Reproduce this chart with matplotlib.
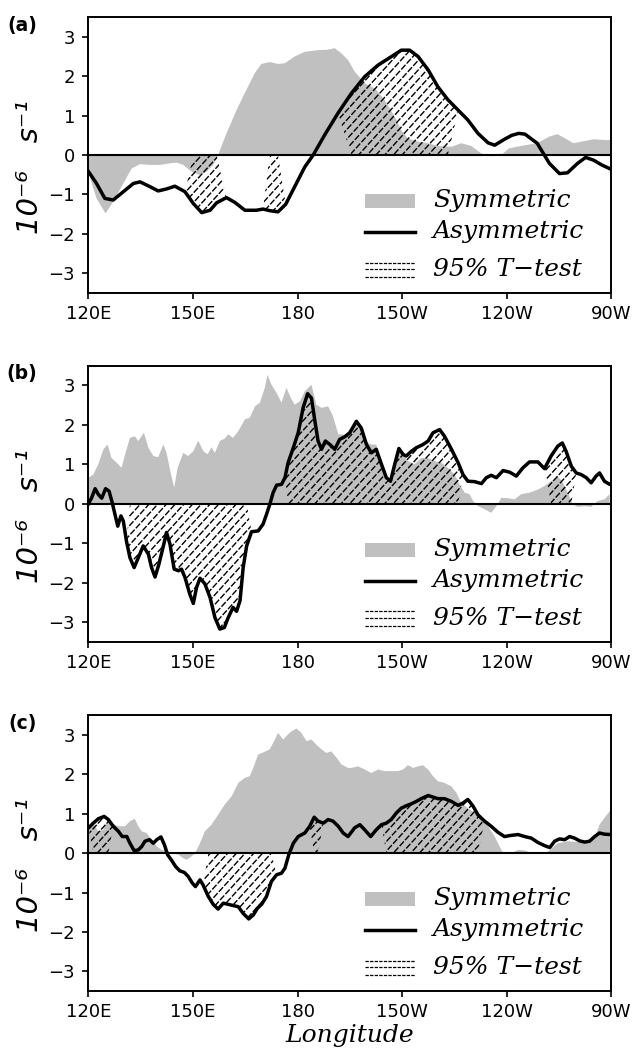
import numpy as np
import matplotlib
matplotlib.use('Agg')
import matplotlib.pyplot as plt
from matplotlib.collections import LineCollection
from matplotlib.path import Path

plt.rcParams['lines.scale_dashes'] = False

# ---------------- data ----------------
# (a)
lon_sym_a = [120, 122.3, 124.9, 127.1, 130, 132.4, 134.8, 137.6, 140.5, 143.4, 145.3, 147.2, 149.6, 152,
             153.9, 155.8, 157.2, 159.6, 162.5, 165.3, 167.7, 169.6, 172, 174.4, 176.4, 179.2, 182.1, 185.9,
             188.5, 190.7, 192.6, 194.5, 196.4, 199.3, 202.2, 205, 207.9, 209.8, 211.7, 214.6, 217.5, 220.3,
             224.2, 227, 229.9, 232.8, 235.6, 238.5, 240.7, 245.3, 248.8, 252.3, 254.6, 256.9, 259.2, 261.5,
             265, 268.5, 270]
sym_a = [-0.45, -1.1, -1.48, -1.18, -0.72, -0.34, -0.23, -0.25, -0.25, -0.21, -0.19, -0.25, -0.42, -0.51,
         -0.42, -0.25, 0.0, 0.55, 1.14, 1.65, 2.07, 2.31, 2.36, 2.31, 2.33, 2.5, 2.62, 2.66,
         2.67, 2.71, 2.58, 2.41, 2.12, 1.82, 1.69, 1.4, 0.97, 0.63, 0.42, 0.34, 0.3, 0.23,
         0.21, 0.3, 0.23, 0.04, -0.03, 0.0, 0.17, 0.25, 0.3, 0.47, 0.53, 0.42, 0.3, 0.34,
         0.4, 0.38, 0.38]
lon_asym_a = [120, 122.3, 124.7, 127.1, 130, 132.9, 134.8, 137.6, 140, 142.4, 144.8, 147.7, 150.1, 152.5,
              154.9, 156.8, 159.6, 162, 164.9, 168.2, 170.1, 172, 174.4, 176.6, 179.2, 182.1, 184.5, 187.8,
              191.6, 195.5, 199.3, 203.1, 207, 209.8, 212.2, 214.6, 217.5, 220.3, 223.2, 226.1, 228.9, 231.8,
              234.7, 236.6, 239.4, 241.5, 243.5, 245.3, 248.8, 252.3, 255.2, 257.5, 260.4, 262.7, 265, 267.3,
              270]
asym_a = [-0.42, -0.72, -1.1, -1.14, -0.93, -0.72, -0.68, -0.8, -0.91, -0.86, -0.79, -0.93, -1.23, -1.46,
          -1.4, -1.21, -1.08, -1.2, -1.4, -1.4, -1.37, -1.41, -1.44, -1.25, -0.8, -0.3, 0.0, 0.51,
          1.06, 1.57, 1.99, 2.28, 2.5, 2.66, 2.66, 2.5, 2.16, 1.73, 1.4, 1.14, 0.89, 0.55,
          0.31, 0.25, 0.4, 0.5, 0.55, 0.53, 0.3, -0.21, -0.47, -0.45, -0.21, -0.06, -0.13, -0.25,
          -0.36]
sig_a = [(149.5, 157.8), (171.5, 175.5), (194.5, 225.2)]

# (b)
lon_sym_b = [120, 121.4, 122.8, 124.3, 125.5, 126.6, 128.1, 129.5, 130.5, 131.9, 133.3, 134.3, 135.9, 137.2,
             138.6, 140, 141.5, 142.4, 143.7, 144.6, 145.6, 147.2, 148.6, 150.1, 151.5, 153, 154.2, 155.3,
             156.3, 157.7, 159.1, 160.1, 161.5, 163, 164.9, 166.3, 167.8, 169.2, 170.6, 171.4, 172.5, 174,
             175.4, 176.8, 178.1, 179.2, 180.7, 182.1, 184, 185.4, 186.9, 188.8, 190.2, 191.7, 193.6, 195.5,
             196.9, 198.3, 199.3, 201.2, 202.6, 204.1, 205.5, 206.9, 208.4, 209.8, 211.7, 213.6, 215.5, 217.5,
             219.4, 221.3, 223.2, 225.1, 226.5, 228, 229.4, 230.4, 231.8, 233.7, 235.6, 237.1, 238.5, 240.4,
             242.3, 244.2, 246.6, 249, 250.9, 252.8, 254.7, 256.2, 257.6, 259, 260.5, 262.4, 264.3, 266.2,
             268.1, 269.6]
sym_b = [0.66, 0.74, 1.0, 1.38, 1.5, 1.16, 1.04, 0.91, 1.25, 1.67, 1.71, 1.59, 1.8, 1.42,
         1.21, 1.18, 1.5, 1.29, 0.74, 0.41, 0.91, 1.29, 1.21, 1.33, 1.6, 1.33, 1.25, 1.43,
         1.29, 1.59, 1.65, 1.76, 1.67, 1.84, 2.14, 2.18, 2.47, 2.56, 2.94, 3.27, 3.02, 2.81,
         2.56, 2.94, 2.68, 2.51, 2.6, 2.85, 3.02, 2.51, 2.43, 2.47, 2.22, 1.76, 1.75, 1.82,
         2.13, 1.97, 1.59, 1.5, 1.5, 1.0, 0.57, 0.57, 1.29, 1.29, 1.08, 1.0, 1.16, 1.16,
         1.08, 1.04, 0.91, 0.74, 0.49, 0.28, 0.24, 0.07, -0.06, -0.14, -0.23, -0.06, 0.15, 0.14,
         0.11, 0.24, 0.28, 0.36, 0.45, 0.57, 0.7, 0.53, 0.28, -0.02, -0.08, -0.06, -0.08, 0.07,
         0.11, 0.24]
lon_asym_b = [120, 120.9, 121.9, 122.8, 123.8, 124.9, 125.9, 126.8, 127.6, 128.4, 129.3, 130, 130.9, 131.9,
              133.1, 134.3, 135.7, 137.2, 138.1, 139.1, 140.2, 141.5, 142.4, 143.4, 144.6, 145.8, 146.7, 147.7,
              149.1, 150.1, 151, 152, 153.4, 154.9, 156.3, 157.7, 159, 160.1, 161.5, 162.5, 163.5, 164.4,
              165.4, 166.8, 168.7, 170.1, 171.1, 172.1, 173, 174, 175.4, 176.4, 177.3, 178.8, 180.2, 181.6,
              182.9, 184, 185, 185.9, 186.9, 188, 189.3, 190.7, 192.1, 193.6, 195, 196.9, 198.3, 199.8,
              201.2, 202.6, 204.1, 205.5, 206.7, 207.9, 209.1, 210.3, 211.2, 212.7, 214.1, 216, 217.5, 218.9,
              220.8, 222.2, 224.2, 226.1, 227.5, 228.9, 230.8, 232.8, 234.2, 235.6, 237.1, 239, 240.9, 242.8,
              244.7, 246.6, 249, 250.9, 252.8, 254.7, 256, 257.1, 258.6, 260, 261.4, 262.9, 264.3, 265.7,
              266.7, 268.1, 269.6, 270]
asym_b = [0.0, 0.15, 0.38, 0.24, 0.14, 0.38, 0.32, 0.03, -0.27, -0.57, -0.31, -0.44, -0.95, -1.37,
          -1.62, -1.37, -1.07, -1.28, -1.62, -1.86, -1.54, -1.07, -0.73, -1.03, -1.66, -1.7, -1.66, -1.87,
          -2.3, -2.53, -2.13, -1.89, -2.03, -2.38, -2.89, -3.18, -3.14, -2.89, -2.63, -2.73, -2.46, -1.62,
          -1.07, -0.71, -0.69, -0.52, -0.27, 0.0, 0.28, 0.47, 0.49, 0.66, 1.04, 1.42, 1.8, 2.43,
          2.79, 2.68, 2.09, 1.59, 1.38, 1.59, 1.5, 1.38, 1.63, 1.7, 1.8, 2.09, 1.92, 1.5,
          1.29, 1.38, 1.0, 0.66, 0.57, 1.0, 1.4, 1.25, 1.21, 1.33, 1.42, 1.5, 1.59, 1.8,
          1.88, 1.71, 1.38, 1.04, 0.74, 0.57, 0.56, 0.51, 0.66, 0.72, 0.66, 0.84, 0.8, 0.7,
          0.91, 1.06, 1.06, 0.89, 1.21, 1.46, 1.54, 1.33, 0.95, 0.78, 0.74, 0.66, 0.53, 0.7,
          0.78, 0.57, 0.49, 0.5]
sig_b = [(131.5, 166), (176.8, 226.2), (252.8, 258.6)]

# (c)
lon_sym_c = [120, 120.9, 121.9, 122.8, 124.3, 125, 126.6, 128.6, 130.5, 131.9, 133.3, 134.3, 135.3, 136.7,
             138.1, 139.6, 141, 142.4, 143.9, 145.8, 147.2, 148.2, 149.6, 150.6, 152, 153.4, 155.3, 157.2,
             159.1, 161.1, 163, 164.9, 166.3, 167.3, 168.7, 170.6, 172, 173.3, 174.4, 175.9, 176.8, 178.3,
             179.7, 181.1, 182.6, 184, 185.4, 186.9, 188.3, 189.7, 191.2, 192.6, 194.5, 195.5, 197.4, 199.3,
             201.2, 203.1, 205, 206.9, 208.9, 210.3, 211.7, 213.2, 214.6, 216, 217.5, 218.9, 220.3, 222.2,
             224.2, 225.6, 227, 228.9, 230.8, 232.8, 234.7, 236.6, 238, 239, 241.4, 243.3, 245.2, 247.1,
             250, 251.9, 254.7, 257.6, 260.5, 263.3, 265.3, 266.7, 268.1, 269.6, 270]
sym_c = [0.64, 0.8, 0.68, 0.55, 0.59, 0.75, 0.76, 0.68, 0.68, 0.81, 0.87, 0.68, 0.55, 0.51,
         0.34, 0.17, 0.08, 0.06, 0.0, -0.04, -0.13, -0.17, -0.08, 0.0, 0.25, 0.55, 0.72, 0.97,
         1.23, 1.44, 1.78, 1.91, 1.95, 2.16, 2.5, 2.57, 2.63, 2.84, 3.05, 2.88, 2.97, 3.09,
         3.16, 3.05, 2.84, 2.88, 2.75, 2.63, 2.54, 2.58, 2.42, 2.25, 2.16, 2.16, 2.2, 2.12,
         2.03, 2.12, 2.08, 2.08, 2.08, 2.12, 2.23, 2.16, 2.2, 2.23, 2.12, 1.95, 1.82, 1.78,
         1.69, 1.53, 1.27, 1.14, 1.02, 0.85, 0.68, 0.42, 0.17, 0.0, 0.0, 0.08, 0.07, 0.0,
         0.0, 0.04, 0.25, 0.3, 0.28, 0.3, 0.38, 0.72, 0.89, 1.06, 1.1]
lon_asym_c = [120, 121.4, 122.8, 124.5, 125.7, 127.1, 128.6, 129.7, 131, 131.9, 133.1, 134.3, 135.3, 136.2,
              137.5, 138.6, 139.6, 140.8, 141.8, 142.7, 143.9, 145, 146.2, 147.5, 148.6, 149.8, 150.7, 152,
              152.9, 154.4, 155.8, 157.2, 158.7, 160.1, 161.5, 163, 164.4, 166, 167.3, 168.5, 169.7, 171.1,
              172.5, 174, 175.4, 176.4, 177.5, 178.8, 180.2, 182.1, 183.5, 184.8, 185.9, 187.4, 188.8, 190.2,
              191.7, 193.1, 194.5, 196.4, 197.9, 199.3, 201, 202.6, 204.1, 205.5, 206.9, 208.4, 209.8, 211.2,
              212.7, 214.1, 215.5, 217.5, 218.9, 220.3, 222.2, 224.2, 226.1, 227.5, 228.9, 230.4, 231.8, 233.7,
              235.6, 237.5, 239.4, 241.4, 243.3, 245.2, 247.1, 249, 250.9, 252.4, 253.8, 255.2, 256.7, 258.1,
              259.5, 261, 262.4, 263.8, 265.3, 266.7, 268.1, 270]
asym_c = [0.64, 0.76, 0.87, 0.93, 0.85, 0.68, 0.55, 0.42, 0.42, 0.25, 0.06, 0.08, 0.17, 0.3,
          0.34, 0.25, 0.34, 0.41, 0.21, -0.04, -0.19, -0.34, -0.45, -0.49, -0.59, -0.76, -0.85, -0.68,
          -0.81, -1.1, -1.3, -1.42, -1.27, -1.3, -1.33, -1.36, -1.53, -1.67, -1.57, -1.4, -1.3, -1.1,
          -0.72, -0.55, -0.51, -0.38, -0.04, 0.25, 0.42, 0.51, 0.68, 0.91, 0.81, 0.76, 0.85, 0.81,
          0.68, 0.51, 0.42, 0.64, 0.72, 0.59, 0.42, 0.59, 0.72, 0.76, 0.85, 1.02, 1.14, 1.2,
          1.25, 1.31, 1.38, 1.46, 1.42, 1.38, 1.38, 1.31, 1.21, 1.27, 1.36, 1.19, 0.97, 0.81,
          0.68, 0.53, 0.42, 0.45, 0.47, 0.42, 0.38, 0.27, 0.19, 0.14, 0.3, 0.36, 0.34, 0.42,
          0.38, 0.31, 0.28, 0.3, 0.42, 0.51, 0.48, 0.47]
sig_c = [(120.5, 127), (153.4, 172.5), (184.3, 186.5), (204.6, 232.8)]

xticks = [120, 150, 180, 210, 240, 270]
xticklabels = ['120E', '150E', '180', '150W', '120W', '90W']
yticks = [-3, -2, -1, 0, 1, 2, 3]
panel_labels = ['(a)', '(b)', '(c)']
legend_labels = ['Symmetric', 'Asymmetric', '95% T\u2212test']
ylabel = '10\u207b\u2076   s\u207b\u00b9'

panels = [
    (lon_sym_a, sym_a, lon_asym_a, asym_a, sig_a),
    (lon_sym_b, sym_b, lon_asym_b, asym_b, sig_b),
    (lon_sym_c, sym_c, lon_asym_c, asym_c, sig_c),
]

gray = '#c0c0c0'
fig = plt.figure(figsize=(6.33, 10.53), dpi=100)
bottoms = [0.7217, 0.3906, 0.0588]

# hatch line family: y = k*(x - x0), a bit steeper than 45 degrees on screen
k = 0.0974
x0s = np.arange(60, 330, 2.5)
hatch_segs = [[(x0 - 4 / k, -4), (x0 + 4 / k, 4)] for x0 in x0s]
# shift the dash phase from line to line so the dashes do not line up in rows
hatch_styles = [((j * 2.3) % 5.8, (4.5, 1.3)) for j in range(len(x0s))]

for i, (ls, sv, la, av, sig) in enumerate(panels):
    ax = fig.add_axes([0.1398, bottoms[i], 0.8255, 0.2621])
    ls = np.array(ls); sv = np.array(sv)
    la = np.array(la); av = np.array(av)

    ax.fill_between(ls, sv, 0, facecolor=gray, edgecolor='none', lw=0, zorder=1)

    # significance hatching between curve and zero
    mask = np.zeros(len(la), dtype=bool)
    for a, b in sig:
        mask |= (la >= a) & (la <= b)
    poly = ax.fill_between(la, av, 0, where=mask, interpolate=True,
                           facecolor='none', edgecolor='none', lw=0)
    clip = Path.make_compound_path(*poly.get_paths())
    lc = LineCollection(hatch_segs, colors='k', linewidths=1.0,
                        linestyles=hatch_styles, zorder=2)
    ax.add_collection(lc)
    lc.set_clip_path(clip, ax.transData)

    ax.axhline(0, color='k', lw=1.5, zorder=3)
    ax.plot(la, av, color='k', lw=2.5, solid_joinstyle='round', zorder=4)

    ax.set_xlim(120, 270)
    ax.set_ylim(-3.5, 3.5)
    ax.set_xticks(xticks)
    ax.set_xticklabels(xticklabels)
    ax.set_yticks(yticks)
    ax.set_yticklabels([str(t).replace('-', '\u2212') for t in yticks])
    ax.tick_params(direction='out', length=4.2, width=1.2, labelsize=13)
    ax.tick_params(axis='x', pad=4.5)
    ax.tick_params(axis='y', pad=5.5)
    for sp in ax.spines.values():
        sp.set_linewidth(1.4)

    # legend drawn by hand
    ax.fill_between([0.529, 0.625], 0.307, 0.3586, transform=ax.transAxes,
                    facecolor=gray, edgecolor='none', lw=0)
    ax.plot([0.529, 0.625], [0.2214, 0.2214], transform=ax.transAxes,
            color='k', lw=2.5)
    for yy in [0.110, 0.0857, 0.0586]:
        ax.plot([0.529, 0.625], [yy, yy], transform=ax.transAxes, color='k',
                lw=0.9, linestyle=(0, (2.4, 0.9)))
    for yy, txt in zip([0.335, 0.222, 0.085], legend_labels):
        ax.text(0.659, yy, txt, transform=ax.transAxes, ha='left', va='center',
                fontsize=18, family='DejaVu Serif', style='italic')

    ax.text(-0.127, 0.971, panel_labels[i], transform=ax.transAxes, ha='center',
            va='center', fontsize=13.5, fontweight='bold')
    ax.text(-0.112, 0.455, ylabel, transform=ax.transAxes, rotation=90,
            ha='center', va='center', fontsize=21, style='italic')

    if i == 2:
        ax.set_xlabel('Longitude', fontsize=18, family='DejaVu Serif', style='italic',
                      labelpad=2)

fig.savefig('out.png', dpi=100)
